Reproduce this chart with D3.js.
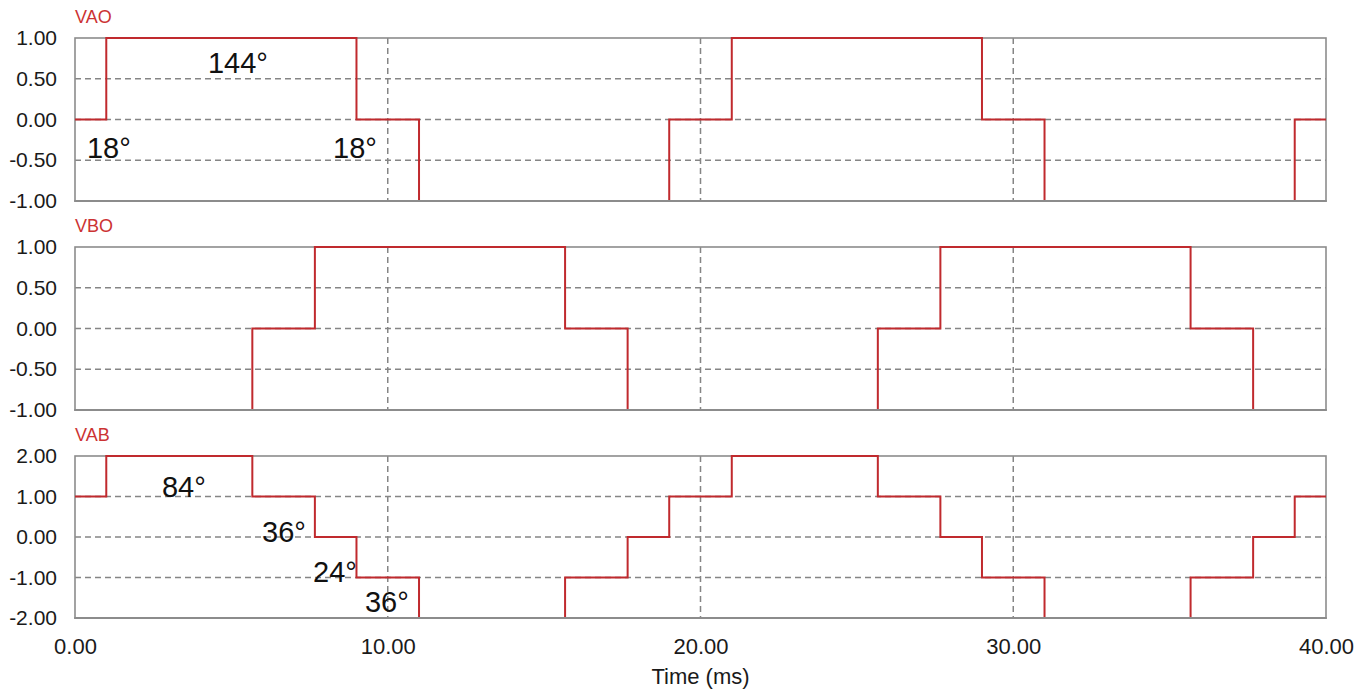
<!DOCTYPE html>
<html>
<head>
<meta charset="utf-8">
<script src="https://cdn.jsdelivr.net/npm/d3@7"></script>
<style>
  html, body { margin: 0; padding: 0; background: #fff; }
  svg { display: block; font-family: Arial, "Liberation Sans", sans-serif; }
</style>
</head>
<body>
<svg id="chart" width="1355" height="695"></svg>
<script>
// ---- data ----
const xTicks = [0, 10, 20, 30, 40];
const panelNames = ["VAO", "VBO", "VAB"];
const yTicksSmall = [-1, -0.5, 0, 0.5, 1];
const yTicksLarge = [-2, -1, 0, 1, 2];

// step waveforms (value holds from each time until the next)
const vaoTime  = [0, 1, 9, 11, 19, 21, 29, 31, 39, 40];
const vaoValue = [0, 1, 0, -1, 0, 1, 0, -1, 0, 0];

const vboTime  = [0, 5.67, 7.67, 15.67, 17.67, 25.67, 27.67, 35.67, 37.67, 40];
const vboValue = [-1, 0, 1, 0, -1, 0, 1, 0, -1, -1];

const vabTime  = [0, 1, 5.67, 7.67, 9, 11, 15.67, 17.67, 19, 21, 25.67, 27.67, 29, 31, 35.67, 37.67, 39, 40];
const vabValue = [1, 2, 1, 0, -1, -2, -1, 0, 1, 2, 1, 0, -1, -2, -1, 0, 1, 1];

// annotations: panel index, time (ms), value, text
const noteText  = ["144°", "18°", "18°", "84°", "36°", "24°", "36°"];
const notePanel = [0, 0, 0, 2, 2, 2, 2];
const noteTime  = [4.25, 0.38, 8.25, 2.78, 5.98, 7.61, 9.27];
const noteValue = [0.57, -0.47, -0.47, 0.99, -0.12, -1.11, -1.85];

// ---- layout ----
const svg = d3.select("#chart");
const left = 75, right = 1326;
const panels = [
  { top: 38,  bottom: 201, domain: [-1, 1], ticks: yTicksSmall, t: vaoTime, v: vaoValue },
  { top: 247, bottom: 410, domain: [-1, 1], ticks: yTicksSmall, t: vboTime, v: vboValue },
  { top: 456, bottom: 618, domain: [-2, 2], ticks: yTicksLarge, t: vabTime, v: vabValue }
];

const x = d3.scaleLinear().domain([0, 40]).range([left, right]);
const fmt = d => d.toFixed(2);
const traceColor = "#c02a2e";
const gridColor = "#858585";
const frameColor = "#8c8c8c";
const defs = svg.append("defs");

panels.forEach((p, i) => {
  const y = d3.scaleLinear().domain(p.domain).range([p.bottom, p.top]);
  const g = svg.append("g");

  defs.append("clipPath").attr("id", "clip" + i)
    .append("rect").attr("x", left - 2).attr("y", p.top - 3)
    .attr("width", right - left + 4).attr("height", p.bottom - p.top + 3);

  // horizontal grid
  g.selectAll("line.hg").data(p.ticks.slice(1, -1)).enter().append("line")
    .attr("x1", left).attr("x2", right)
    .attr("y1", d => y(d)).attr("y2", d => y(d))
    .attr("stroke", gridColor).attr("stroke-width", 1.5)
    .attr("stroke-dasharray", "6,4");
  // vertical grid
  g.selectAll("line.vg").data(xTicks.slice(1, -1)).enter().append("line")
    .attr("x1", d => x(d)).attr("x2", d => x(d))
    .attr("y1", p.top).attr("y2", p.bottom)
    .attr("stroke", gridColor).attr("stroke-width", 1.5)
    .attr("stroke-dasharray", "6,4");

  // frame
  g.append("rect")
    .attr("x", left).attr("y", p.top)
    .attr("width", right - left).attr("height", p.bottom - p.top)
    .attr("fill", "none").attr("stroke", frameColor).attr("stroke-width", 1.6);

  // y axis labels
  const ay = d3.axisLeft(y).tickValues(p.ticks).tickFormat(fmt).tickSize(0).tickPadding(18);
  const axg = g.append("g").attr("transform", `translate(${left},0)`).call(ay);
  axg.select(".domain").remove();
  axg.selectAll("text").attr("font-size", 21).attr("fill", "#1a1a1a")
    .attr("font-family", "Arial, 'Liberation Sans', sans-serif");

  // trace
  const pts = p.t.map((t, k) => [t, p.v[k]]);
  const line = d3.line().x(d => x(d[0])).y(d => y(d[1])).curve(d3.curveStepAfter);
  g.append("path").datum(pts)
    .attr("clip-path", `url(#clip${i})`)
    .attr("d", line).attr("fill", "none")
    .attr("stroke", traceColor).attr("stroke-width", 2);

  // bottom edge drawn over trace
  g.append("line")
    .attr("x1", left - 0.8).attr("x2", right + 0.8)
    .attr("y1", p.bottom).attr("y2", p.bottom)
    .attr("stroke", frameColor).attr("stroke-width", 2);

  // panel name
  g.append("text").attr("x", left).attr("y", p.top - 15)
    .attr("font-size", 18).attr("fill", "#cc3333").text(panelNames[i]);

  // annotations
  noteText.forEach((txt, k) => {
    if (notePanel[k] !== i) return;
    g.append("text").attr("x", x(noteTime[k])).attr("y", y(noteValue[k]))
      .attr("font-size", 29).attr("fill", "#111").text(txt);
  });

  // x axis under last panel
  if (i === panels.length - 1) {
    const ax = d3.axisBottom(x).tickValues(xTicks).tickFormat(fmt).tickSize(0).tickPadding(20);
    const xg = g.append("g").attr("transform", `translate(0,${p.bottom})`).call(ax);
    xg.select(".domain").remove();
    xg.selectAll("text").attr("font-size", 22).attr("fill", "#1a1a1a")
      .attr("font-family", "Arial, 'Liberation Sans', sans-serif");
    g.append("text").attr("x", (left + right) / 2).attr("y", 684)
      .attr("text-anchor", "middle").attr("font-size", 22).attr("fill", "#1a1a1a")
      .text("Time (ms)");
  }
});
</script>
</body>
</html>
